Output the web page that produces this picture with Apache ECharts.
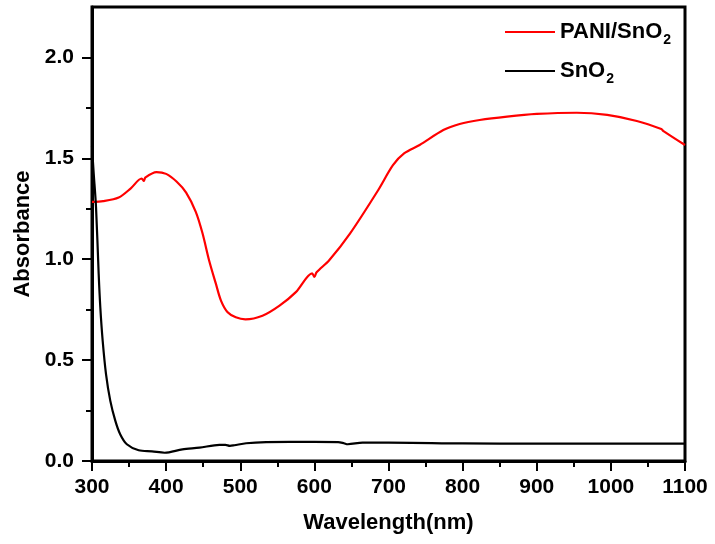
<!DOCTYPE html>
<html>
<head>
<meta charset="utf-8">
<script src="https://cdn.jsdelivr.net/npm/echarts@6/dist/echarts.min.js"></script>
<style>html,body{margin:0;padding:0;background:#fff}#c{width:715px;height:544px}</style>
</head>
<body>
<div id="c"></div>
<script>
// ---- data ----
const seriesNames = ['PANI/SnO2', 'SnO2'];
const paniWavelength = [300, 315, 336, 352, 367, 370, 372, 387, 400, 414, 427, 440, 449, 458, 467, 474, 483, 494, 507, 530, 553, 575, 597, 600, 603, 620, 648, 686, 706, 721, 742, 774, 796, 823, 860, 900, 954, 995, 1035, 1068, 1071, 1100];
const paniAbsorbance = [1.284, 1.288, 1.306, 1.35, 1.40, 1.388, 1.405, 1.432, 1.423, 1.385, 1.33, 1.235, 1.13, 0.994, 0.88, 0.795, 0.737, 0.712, 0.702, 0.72, 0.77, 0.837, 0.93, 0.912, 0.935, 0.995, 1.127, 1.342, 1.466, 1.524, 1.566, 1.64, 1.67, 1.69, 1.707, 1.72, 1.726, 1.715, 1.685, 1.645, 1.635, 1.566];
const sno2Wavelength = [300, 302, 305.4, 309, 311.2, 314.4, 318.9, 324.7, 331.5, 338, 347, 363, 381, 398, 422, 445, 472, 480, 486, 492, 508, 535, 567, 600, 632, 640, 645, 665, 700, 800, 900, 1000, 1100];
const sno2Absorbance = [1.56, 1.44, 1.26, 0.928, 0.762, 0.596, 0.431, 0.298, 0.199, 0.133, 0.083, 0.053, 0.048, 0.041, 0.058, 0.066, 0.08, 0.08, 0.075, 0.078, 0.088, 0.094, 0.095, 0.095, 0.094, 0.088, 0.083, 0.091, 0.091, 0.087, 0.086, 0.086, 0.086];
const yMajorTicks = [0, 0.5, 1.0, 1.5, 2.0];
const yMinorTicks = [0.25, 0.75, 1.25, 1.75];

const FONT = "'Liberation Sans', Arial, sans-serif";
const zip = (xs, ys) => xs.map((x, i) => [x, ys[i]]);

const chart = echarts.init(document.getElementById('c'), null, {renderer: 'canvas'});
chart.setOption({
  animation: false,
  backgroundColor: '#fff',
  grid: {left: 92, right: 30, top: 7, bottom: 83, show: true, borderColor: '#000', borderWidth: 3, backgroundColor: 'transparent'},
  legend: {
    orient: 'vertical', left: 500, top: 16, itemWidth: 50, itemHeight: 2, itemGap: 13,
    icon: 'rect',
    data: seriesNames,
    formatter: n => n === 'PANI/SnO2' ? '{n|PANI/SnO}{s|2}' : '{n|SnO}{s|2}',
    textStyle: {
      rich: {
        n: {fontSize: 22, fontWeight: 'bold', fontFamily: FONT, color: '#000'},
        s: {fontSize: 14, fontWeight: 'bold', fontFamily: FONT, color: '#000', verticalAlign: 'bottom', padding: [16, 0, 0, 1]}
      }
    }
  },
  xAxis: {
    type: 'value', min: 300, max: 1100, interval: 100,
    name: 'Wavelength(nm)', nameLocation: 'middle', nameGap: 51,
    nameTextStyle: {fontSize: 22, fontWeight: 'bold', fontFamily: FONT, color: '#000'},
    axisLine: {show: true, onZero: false, lineStyle: {color: '#000', width: 3}},
    axisTick: {show: true, inside: false, length: 10, lineStyle: {color: '#000', width: 2}},
    minorTick: {show: true, splitNumber: 2, length: 6, lineStyle: {color: '#000', width: 2}},
    axisLabel: {fontSize: 21, fontWeight: 'bold', fontFamily: FONT, color: '#000', margin: 16, formatter: v => String(v)},
    splitLine: {show: false}
  },
  yAxis: [{
    type: 'value', min: 0, max: 2.25, interval: 0.5,
    name: 'Absorbance', nameLocation: 'middle', nameGap: 57,
    nameTextStyle: {fontSize: 22, fontWeight: 'bold', fontFamily: FONT, color: '#000'},
    axisLine: {show: true, onZero: false, lineStyle: {color: '#000', width: 3}},
    axisTick: {show: true, inside: false, length: 10, customValues: yMajorTicks, lineStyle: {color: '#000', width: 2}},
    axisLabel: {fontSize: 21, fontWeight: 'bold', fontFamily: FONT, color: '#000', margin: 18, customValues: yMajorTicks, formatter: v => v.toFixed(1)},
    splitLine: {show: false}
  }, {
    type: 'value', min: 0, max: 2.25, interval: 0.25, position: 'left', offset: 0,
    axisLine: {show: false},
    axisTick: {show: true, inside: false, length: 6, customValues: yMinorTicks, lineStyle: {color: '#000', width: 2}},
    axisLabel: {show: false},
    splitLine: {show: false}
  }],
  series: [{
    name: seriesNames[0], type: 'line', data: zip(paniWavelength, paniAbsorbance),
    showSymbol: false, smooth: 0.3, color: '#ff0000', lineStyle: {width: 2.2, color: '#ff0000'}
  }, {
    name: seriesNames[1], type: 'line', data: zip(sno2Wavelength, sno2Absorbance),
    showSymbol: false, smooth: 0.3, color: '#000', lineStyle: {width: 2.2, color: '#000'}
  }]
});
</script>
</body>
</html>
